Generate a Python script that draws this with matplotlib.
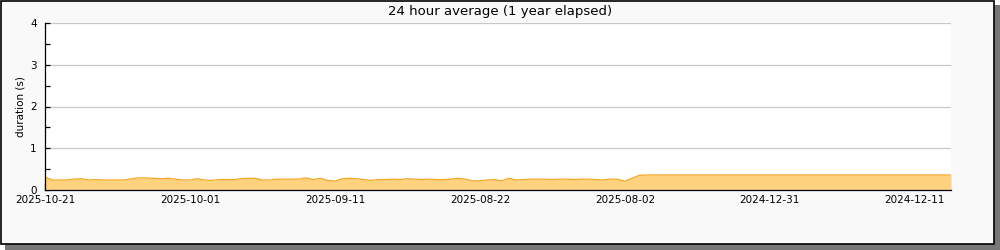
import matplotlib
matplotlib.use("Agg")
import matplotlib.pyplot as plt
from matplotlib.patches import Rectangle
from matplotlib.ticker import MultipleLocator

# one value per day, newest first
durations = [
    0.31, 0.24, 0.24, 0.24, 0.26, 0.27, 0.24, 0.25, 0.24, 0.24,
    0.24, 0.24, 0.27, 0.29, 0.29, 0.28, 0.27, 0.28, 0.26, 0.24,
    0.24, 0.27, 0.24, 0.23, 0.25, 0.25, 0.25, 0.27, 0.28, 0.28,
    0.24, 0.24, 0.26, 0.26, 0.26, 0.26, 0.29, 0.25, 0.28, 0.23,
    0.21, 0.27, 0.28, 0.27, 0.25, 0.23, 0.25, 0.25, 0.26, 0.25,
    0.27, 0.26, 0.25, 0.26, 0.25, 0.25, 0.26, 0.28, 0.26, 0.22,
    0.22, 0.24, 0.25, 0.22, 0.28, 0.24, 0.25, 0.26, 0.26, 0.26,
    0.25, 0.26, 0.26, 0.25, 0.26, 0.26, 0.25, 0.24, 0.26, 0.26,
    0.21, 0.28, 0.35, 0.36, 0.36, 0.36, 0.36, 0.36, 0.36, 0.36,
    0.36, 0.36, 0.36, 0.36, 0.36, 0.36, 0.36, 0.36, 0.36, 0.36,
    0.36, 0.36, 0.36, 0.36, 0.36, 0.36, 0.36, 0.36, 0.36, 0.36,
    0.36, 0.36, 0.36, 0.36, 0.36, 0.36, 0.36, 0.36, 0.36, 0.36,
    0.36, 0.36, 0.36, 0.36, 0.36, 0.36,
]
tick_labels = ["2025-10-21", "2025-10-01", "2025-09-11", "2025-08-22",
               "2025-08-02", "2024-12-31", "2024-12-11"]
tick_days = [0, 20, 40, 60, 80, 100, 120]

days = list(range(len(durations)))

fig = plt.figure(figsize=(10, 2.5), dpi=100, facecolor="white")

# frame with drop shadow
fig.patches.append(Rectangle((0.005, 0.0), 0.995, 0.98, transform=fig.transFigure,
                             facecolor="#777777", edgecolor="none", zorder=-3))
fig.patches.append(Rectangle((0.0005, 0.026), 0.993, 0.972, transform=fig.transFigure,
                             facecolor="#f9f9f9", edgecolor="black", linewidth=1.2, zorder=-2))

ax = fig.add_axes([0.045, 0.24, 0.906, 0.668])
ax.set_facecolor("white")

ax.fill_between(days, durations, 0, color="#ffd280", linewidth=0, zorder=2)
ax.plot(days, durations, color="#f5a623", linewidth=0.9, zorder=3)

ax.set_xlim(0, len(durations) - 1)
ax.set_ylim(0, 4)
ax.set_xticks(tick_days)
ax.set_xticklabels(tick_labels)
ax.xaxis.set_minor_locator(MultipleLocator(10))
ax.yaxis.set_major_locator(MultipleLocator(1))
ax.yaxis.set_minor_locator(MultipleLocator(0.5))

ax.grid(axis="y", which="major", color="#c8c8c8", linewidth=0.9, zorder=1)
ax.set_axisbelow(True)

for side in ["top", "right"]:
    ax.spines[side].set_visible(False)
for side in ["left", "bottom"]:
    ax.spines[side].set_linewidth(0.9)
    ax.spines[side].set_zorder(4)

ax.tick_params(axis="x", which="both", direction="in", length=5, width=0.9,
               labelsize=7.5, pad=3.5)
ax.tick_params(axis="y", which="both", direction="in", length=3.5, width=0.9,
               labelsize=7.5, pad=6)

ax.set_ylabel("duration (s)", fontsize=7.5, labelpad=3)
fig.text(0.5, 0.956, "24 hour average (1 year elapsed)", ha="center", va="center",
         fontsize=9.5)

fig.savefig("out.png", dpi=100, facecolor=fig.get_facecolor())
